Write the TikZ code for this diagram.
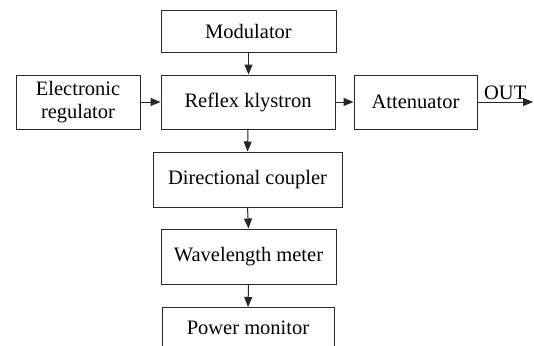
\documentclass[tikz,border=0pt]{standalone}
\usepackage{fontspec}
\setmainfont{Liberation Serif}
\usetikzlibrary{arrows.meta}
\begin{document}
\begin{tikzpicture}[x=1pt,y=-1pt,
  blk/.style={draw=black!85, line width=1pt, inner sep=0pt, align=center,
    font=\fontsize{20.5}{23.5}\selectfont},
  arr/.style={draw=black!85, line width=1pt, -{Triangle[length=10pt,width=8pt]}}]
\clip (0,0) rectangle (534,345);
\node[blk, minimum width=175pt, minimum height=41pt] (mod) at (248.5,31.5) {Modulator};
\node[blk, minimum width=174pt, minimum height=54pt] (kly) at (248,102) {Reflex klystron};
\node[blk, minimum width=124pt, minimum height=54pt] (reg) at (78,102) {Electronic\\regulator};
\node[blk, minimum width=123pt, minimum height=54pt] (att) at (415.5,102) {Attenuator};
\node[blk, minimum width=189pt, minimum height=55pt] (dc) at (247.5,179.5) {Directional coupler};
\node[blk, minimum width=175pt, minimum height=55pt] (wm) at (248.5,256.5) {Wavelength meter};
\node[blk, minimum width=172pt, minimum height=55pt, anchor=north] (pm) at (248,307) {};
\node[font=\fontsize{20.5}{23.5}\selectfont, anchor=base] (pmt) at (248,334) {Power monitor};
\coordinate (out) at (533,102);
\draw[arr] (mod.south) -- (mod.south |- kly.north);
\draw[arr] (reg.east) -- (kly.west);
\draw[arr] (kly.east) -- (att.west);
\draw[arr] (att.east) -- node[above, inner sep=2pt, font=\fontsize{20.5}{23.5}\selectfont] (outl) {OUT} (out);
\draw[arr] (kly.south) -- (dc.north);
\draw[arr] (dc.south) -- (wm.north);
\draw[arr] (wm.south) -- (pm.north);
\end{tikzpicture}
\end{document}
